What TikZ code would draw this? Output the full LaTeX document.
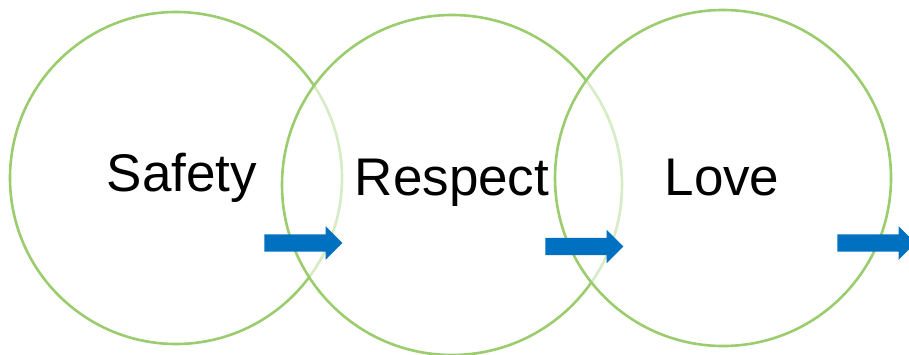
\documentclass[tikz,border=0pt]{standalone}
\usepackage{fontspec}
\setmainfont{Liberation Sans}
\usetikzlibrary{shapes,arrows,positioning}
\definecolor{ringgreen}{RGB}{155,205,110}
\definecolor{arrowblue}{RGB}{0,112,192}

\begin{document}
\begin{tikzpicture}[x=1pt, y=1pt,
    ring/.style={circle, draw=ringgreen, line width=2.6pt, inner sep=0pt, fill=white, fill opacity=0.6, draw opacity=1},
    word/.style={font=\fontsize{53}{60}\selectfont, inner sep=0pt},
    nextarrow/.style={single arrow, fill=arrowblue, draw=none, inner xsep=0pt, inner ysep=8.5pt, minimum height=78pt, single arrow head extend=8pt, single arrow head indent=0pt}
]
\useasboundingbox (0,0) rectangle (909,354);

\node[ring, minimum size=332pt] (safety) at (176,176) {};
\node[ring, minimum size=340pt] (respect) at (452,169) {};
\node[ring, minimum size=336pt] (love) at (723,176) {};

\node[word] (lblSafety) at (182,176) {Safety};
\node[word] (lblRespect) at (452,171) {Respect};
\node[word] (lblLove) at (722,176) {Love};

\node[nextarrow] (arr1) at (299,111) {};
\node[nextarrow] (arr2) at (580,107.5) {};
\node[nextarrow] (arr3) at (872,111) {};

\end{tikzpicture}
\end{document}
